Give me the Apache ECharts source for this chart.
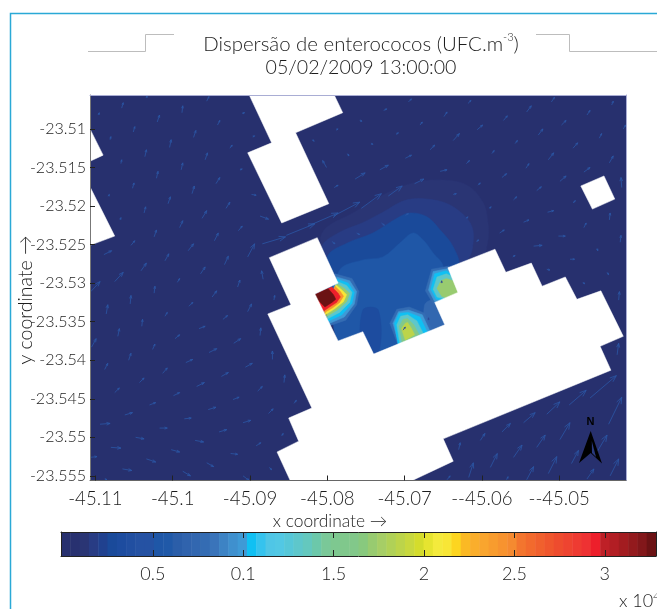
<!DOCTYPE html>
<html><head><meta charset="utf-8">
<style>html,body{margin:0;padding:0;background:#fff}#c{width:657px;height:609px}</style>
<script src="https://cdn.jsdelivr.net/npm/echarts@6/dist/echarts.min.js"></script>
</head><body><div id="c"></div>
<script>
const FONT = 'Lato';
const xTickValues = [-45.11,-45.10,-45.09,-45.08,-45.07,-45.06,-45.05];
const xTickLabels = ['-45.11','-45.1','-45.09','-45.08','-45.07','--45.06','--45.05'];
const yTickValues = [-23.51,-23.515,-23.52,-23.525,-23.53,-23.535,-23.54,-23.545,-23.55,-23.555];
const yTickLabels = ['-23.51','-23.515','-23.52','-23.525','-23.53','-23.535','-23.54','-23.545','-23.55','-23.555'];
const cbTickValues = [0.5,1,1.5,2,2.5,3];
const cbTickLabels = ['0.5','0.1','1.5','2','2.5','3'];
const palette = ['#27306e','#283170','#2a3574','#283c84','#20418f','#1a4a9a','#1d4c9f','#214fa1','#2552a3','#2552a3',
 '#1f57a7','#2059a8','#2b5ea9','#3063ad','#3267b0','#346cb3','#3a74ba','#3d83c4','#3f90ce','#3f9ad6',
 '#10c0f3','#35c3ee','#4fc6e6','#52c8e4','#56c7d8','#5ec7cb','#64c8be','#6cc8aa','#7ac898','#7ec890',
 '#80c88c','#82c88a','#88c97e','#98cb70','#a6ce66','#b0d157','#bcd44a','#c8d83e','#d4dc2c','#e6e430',
 '#f4ea3c','#f8e636','#fdd520','#fbb924','#faae2c','#f9a52e','#f89c2e','#f7932f','#f58a30','#f3752e',
 '#f26a2d','#f0602d','#ef562d','#ee4c2e','#ee4430','#ee3b32','#ee3233','#ed1f2b','#be2027','#b21e24',
 '#a31c20','#931a1d','#82171a','#6b1214'];
// All map points: ten-thousandths of a degree west of 45 deg W and south of 23 deg S.
const landPolygons = [
 [[901,5056],[791,5056],[780,5079],[841,5105],[798,5197],[859,5222],[903,5131],[872,5118]],
 [[1107,5100],[1090,5134],[1107,5142]],
 [[1107,5175],[1075,5239],[1107,5251]],
 [[472,5174],[442,5161],[428,5191],[457,5204]],
 [[875,5267],[813,5241],[786,5300],[816,5314],[786,5375],[754,5363],[740,5392],[648,5354],[661,5325],[631,5312],[644,5280],[583,5256],[569,5286],[536,5274],[522,5304],[492,5292],[477,5321],[446,5310],[417,5369],[447,5382],[433,5413],[650,5502],[637,5531],[690,5556],[848,5556],[865,5519],[837,5505],[850,5475],[820,5462],[877,5340],[847,5328]]
];
const plumeValues = [0.13,0.17,0.26,0.53,0.32,0.73];
const plumePolygons = [
 [[809,5244],[800,5227],[767,5209],[723,5183],[689,5170],[654,5166],[619,5173],[598,5196],[592,5222],[592,5244],[602,5273],[706,5348],[796,5296]],
 [[807,5253],[784,5234],[755,5222],[728,5208],[697,5192],[663,5192],[637,5201],[615,5222],[611,5244],[619,5270],[697,5331],[800,5292]],
 [[800,5266],[774,5248],[741,5235],[710,5216],[693,5209],[671,5214],[654,5231],[637,5253],[631,5279],[697,5352],[793,5309]],
 [[784,5283],[754,5270],[728,5266],[706,5248],[689,5235],[676,5244],[663,5261],[650,5279],[654,5352],[741,5396],[784,5378],[793,5331]],
 [[754,5335],[734,5335],[734,5391],[754,5391]],
 [[674,5328],[654,5322],[641,5361],[667,5371]]
];
const westHotspotValues = [0.8,1.0,1.04,1.3,1.72,2.12,2.42,2.93,3.25];
const westHotspot = [
 [[790,5288],[768,5294],[759,5311],[762,5328],[776,5348],[799,5356]],
 [[788,5292],[771,5297],[762,5311],[765,5327],[778,5344],[799,5353]],
 [[787,5295],[773,5300],[765,5312],[768,5326],[781,5341],[800,5350]],
 [[787,5298],[775,5303],[768,5312],[771,5325],[784,5338],[801,5347]],
 [[787,5301],[778,5307],[771,5313],[775,5324],[787,5335],[802,5344]],
 [[789,5302],[780,5310],[775,5315],[779,5324],[790,5333],[804,5342]],
 [[790,5304],[783,5311],[779,5317],[784,5325],[793,5332],[805,5339]],
 [[794,5305],[786,5313],[783,5318],[788,5325],[797,5331],[806,5337],[816,5315]],
 [[799,5307],[792,5315],[789,5321],[794,5325],[803,5331],[816,5318],[816,5315]]
];
const southHotspotValues = [0.8,1.0,1.04,1.3,1.6,1.87];
const southHotspot = [
 [[719,5352],[710,5334],[694,5331],[674,5339],[662,5367],[706,5387]],
 [[715,5352],[708,5337],[695,5335],[677,5341],[665,5367],[706,5385]],
 [[713,5352],[707,5339],[695,5338],[680,5344],[669,5367],[708,5382]],
 [[710,5354],[705,5343],[696,5341],[684,5349],[675,5367],[706,5380]],
 [[707,5356],[702,5347],[696,5346],[688,5354],[681,5367],[703,5378]],
 [[704,5359],[699,5352],[696,5351],[691,5359],[687,5367],[699,5374]]
];
const eastHotspotValues = [0.8,1.0,1.04,1.3,1.72];
const eastHotspot = [
 [[673,5310],[665,5282],[643,5278],[626,5294],[626,5328],[663,5327]],
 [[669,5309],[663,5285],[643,5281],[628,5296],[628,5326],[661,5324]],
 [[666,5308],[661,5288],[646,5284],[628,5296],[628,5326],[659,5321]],
 [[663,5308],[658,5292],[646,5288],[628,5296],[628,5326],[658,5318]],
 [[658,5307],[653,5297],[646,5294],[628,5300],[628,5326],[652,5317]]
];
// Current vectors: west offset, south offset, eastward, northward.
const currentVectors = [
[1089,5263,10,5],[1054,5251,5,6],[1024,5240,3,9],[946,5245,5,10],[980,5258,7,9],[1010,5271,5,9],[1041,5284,7,10],[1075,5298,11,12],[1106,5311,12,13],[903,5266,9,17],
[933,5276,5,11],[964,5288,6,9],[994,5299,3,5],[1024,5313,1,9],[1055,5327,1,11],[1086,5340,2,12],[916,5305,3,9],[949,5318,6,8],[979,5330,5,5],[1010,5343,3,5],
[1040,5356,1,9],[1071,5369,2,10],[1105,5383,6,11],[903,5337,5,10],[935,5347,6,5],[966,5359,8,3],[997,5372,6,5],[1026,5386,3,7],[1057,5400,3,9],[1088,5412,4,8],
[887,5368,1,10],[921,5378,9,6],[953,5390,10,5],[983,5403,9,4],[1013,5417,6,7],[1043,5429,6,6],[1075,5442,6,6],[871,5399,0,11],[906,5409,9,5],[937,5421,9,5],
[969,5434,10,5],[999,5446,8,4],[1030,5458,8,3],[1062,5471,10,3],[1094,5483,13,1],[890,5440,6,6],[922,5451,8,3],[954,5464,10,3],[985,5476,9,1],[1017,5488,10,0],
[1048,5500,11,-2],[1080,5513,13,-1],[1107,5526,9,1],[876,5469,6,6],[909,5481,10,3],[940,5493,10,3],[971,5504,11,-2],[1002,5516,11,-3],[1034,5528,12,-4],[1065,5541,12,-2],
[892,5511,6,4],[925,5521,9,-1],[956,5533,9,-5],[987,5544,10,-6],[875,5539,3,-3],[909,5550,8,-6],[1088,5554,3,-1],[883,5295,-2,11],[869,5322,1,6],
[1066,5073,2,7],[1096,5082,1,3],[1051,5104,2,7],[1020,5091,3,9],[988,5079,1,9],[1081,5114,1,4],[1036,5136,2,9],[1004,5124,2,10],[973,5111,3,9],[1067,5145,1,5],
[1021,5164,2,9],[989,5153,2,9],[958,5140,3,9],[1052,5177,2,7],[1006,5197,3,9],[975,5184,3,10],[1083,5187,1,2],[1037,5209,2,8],[991,5228,4,9],[962,5216,6,10],[1068,5218,1,3],
[1034,5060,1,3],[956,5064,3,6],[942,5095,3,6],[926,5125,3,4],[910,5080,3,1],[896,5110,2,1],
[944,5171,5,8],[931,5203,5,8],[915,5232,5,6],
[884,5249,30,9],[853,5238,37,15],[825,5226,39,17],[792,5213,34,18],[756,5203,26,19],[721,5187,18,13],[687,5171,12,6],
[887,5213,11,-4],[898,5185,6,-1],[913,5153,3,1],[801,5150,-5,9],[791,5176,5,3],[764,5165,13,8],[732,5153,11,6],[699,5138,8,4],[667,5127,6,6],[637,5115,8,9],[606,5101,7,6],[572,5089,5,6],
[557,5119,3,4],[620,5145,4,4],[587,5132,3,4],[654,5155,9,2],[695,5065,4,4],[727,5076,4,2],[649,5084,4,6],[680,5095,3,4],[711,5107,3,2],[743,5119,2,-1],[774,5132,2,-3],[819,5114,2,-2],
[758,5089,3,-1],[788,5101,2,1],[618,5067,4,4],[574,5163,6,5],[605,5173,3,3],[637,5185,4,1],[590,5203,2,2],[620,5216,2,2],[559,5192,4,4],[577,5235,6,4],[607,5246,3,2],
[730,5222,4,-3],[699,5212,4,2],[762,5235,4,-2],[794,5246,4,-3],
[542,5078,6,8],[510,5065,4,6],[464,5082,4,6],[432,5069,2,5],[527,5108,6,8],[497,5095,6,6],[448,5112,3,6],[417,5100,3,5],[543,5151,4,6],[514,5140,7,9],[482,5125,6,7],[435,5144,5,9],
[529,5180,6,5],[499,5168,8,7],[468,5156,8,6],[419,5176,-1,13],[546,5221,7,3],[515,5208,8,2],[482,5196,3,3],[435,5218,1,9],[468,5228,3,6],[501,5239,9,0],[421,5247,1,9],
[533,5252,11,1],[560,5266,3,2],[486,5269,6,0],[516,5282,4,-1],[451,5255,1,-3],[438,5286,2,-3],[469,5299,2,-2],[423,5322,1,11],[425,5393,2,15],
[460,5449,34,29],[487,5458,22,19],[436,5483,17,35],[516,5470,17,16],[546,5481,15,13],[499,5503,13,22],[574,5493,11,11],[602,5504,6,9],[630,5516,2,9],[529,5513,11,16],[559,5526,11,16],
[589,5539,9,18],[617,5552,6,19],[484,5534,9,17],[451,5519,13,22],[514,5547,11,22],[542,5555,9,17],[434,5550,11,22],[464,5554,9,13],[568,5555,2,4],[645,5555,4,5],
[856,5429,1,10],[843,5456,3,4],[859,5498,2,3]
];
const hotspotVectors = [[652,5300,0,3],[702,5361,3,4],[669,5348,0,3]];

const CB_MIN = -0.008, CB_MAX = 3.283;
const lonOf = w => -45 - w/1e4, latOf = s => -23 - s/1e4;
const colorOf = v => palette[Math.min(63, Math.floor((v-CB_MIN)/(CB_MAX-CB_MIN)*64))];

const fieldItems = [];
const addLayer = (polys, vals, smooth) => polys.forEach((p,i)=>fieldItems.push({p, c: colorOf(vals[i]), smooth}));
addLayer(plumePolygons, plumeValues, 0.35);
addLayer(westHotspot, westHotspotValues, 0);
addLayer(southHotspot, southHotspotValues, 0);
addLayer(eastHotspot, eastHotspotValues, 0);
landPolygons.forEach(p=>fieldItems.push({p, c:'#ffffff', smooth:0}));

function arrowItem(v, api, color){
  const a = api.coord([lonOf(v[0]), latOf(v[1])]);
  const b = api.coord([lonOf(v[0]) + v[2]/1e4, latOf(v[1]) + v[3]/1e4]);
  const dx=b[0]-a[0], dy=b[1]-a[1], len=Math.hypot(dx,dy)||1;
  const h=Math.min(7,Math.max(2,len*0.38)), ang=Math.atan2(dy,dx), w=0.36;
  const l=[b[0]-h*Math.cos(ang-w), b[1]-h*Math.sin(ang-w)], r=[b[0]-h*Math.cos(ang+w), b[1]-h*Math.sin(ang+w)];
  return {type:'group',children:[
    {type:'polyline',shape:{points:[a,b]},style:{stroke:color,lineWidth:0.8,fill:null}},
    {type:'polyline',shape:{points:[l,b,r]},style:{stroke:color,lineWidth:0.8,fill:null}}
  ]};
}
const hidden = {show:false};
const chart = echarts.init(document.getElementById('c'),null,{renderer:'canvas'});
const INK='#1c1c1c';
const txt = {fontFamily:FONT,fontWeight:300,color:INK};
const line = (pts,stroke,w)=>({type:'polyline',silent:true,shape:{points:pts},style:{stroke,lineWidth:w,fill:null}});
chart.setOption({
  animation:false,
  backgroundColor:'#ffffff',
  title:[
    {text:'{a|Dispersão de enterococos (UFC.m}{s|-3}{a|)}',left:356,top:27,textAlign:'center',
      textStyle:{rich:{a:{...txt,fontSize:20.4,lineHeight:24},s:{...txt,fontSize:11,lineHeight:20,verticalAlign:'top',padding:[0,0,8,0]}}}},
    {text:'05/02/2009 13:00:00',left:356,top:53,textAlign:'center',textStyle:{...txt,fontSize:19.6}}
  ],
  grid:[
    {left:90,top:95,width:536,height:385.5,show:true,backgroundColor:palette[0],borderWidth:0},
    {left:61,top:532,width:595,height:24,show:false}
  ],
  xAxis:[
    {gridIndex:0,type:'value',position:'bottom',min:lonOf(1107),max:lonOf(413.5),z:10,splitLine:hidden,
      axisLine:{show:true,onZero:false,lineStyle:{color:'#666',width:1}},
      axisTick:{show:true,inside:true,length:5,customValues:xTickValues,lineStyle:{color:'#222'}},
      axisLabel:{show:true,margin:9,customValues:xTickValues,...txt,fontSize:18.6,formatter:v=>xTickLabels[xTickValues.indexOf(v)]||''}},
    {gridIndex:0,type:'value',position:'top',min:lonOf(1107),max:lonOf(413.5),z:10,splitLine:hidden,
      axisLine:{show:true,onZero:false,lineStyle:{color:'#a9add4',width:1}},axisTick:hidden,axisLabel:hidden},
    {gridIndex:1,type:'value',position:'bottom',min:CB_MIN,max:CB_MAX,z:10,splitLine:hidden,
      axisLine:{show:true,onZero:false,lineStyle:{color:'#222',width:1}},
      axisTick:{show:true,inside:true,length:6,customValues:cbTickValues,lineStyle:{color:'#222'}},
      axisLabel:{show:true,margin:9,customValues:cbTickValues,...txt,fontSize:18,formatter:v=>cbTickLabels[cbTickValues.indexOf(v)]||''}},
    {gridIndex:1,type:'value',position:'top',min:CB_MIN,max:CB_MAX,z:10,splitLine:hidden,
      axisLine:{show:true,onZero:false,lineStyle:{color:'#222',width:1}},
      axisTick:{show:true,inside:true,length:6,customValues:cbTickValues,lineStyle:{color:'#222'}},axisLabel:hidden}
  ],
  yAxis:[
    {gridIndex:0,type:'value',position:'left',min:latOf(5556),max:latOf(5056),z:10,splitLine:hidden,
      axisLine:{show:true,onZero:false,lineStyle:{color:'#777',width:1}},
      axisTick:{show:true,inside:true,length:5,customValues:yTickValues,lineStyle:{color:'#222'}},
      axisLabel:{show:true,margin:4,customValues:yTickValues,...txt,fontSize:16,padding:[0,0,10,0],formatter:v=>yTickLabels[yTickValues.indexOf(v)]||''}},
    {gridIndex:0,type:'value',position:'right',min:latOf(5556),max:latOf(5056),z:10,splitLine:hidden,
      axisLine:{show:true,onZero:false,lineStyle:{color:'#a9add4',width:1}},axisTick:hidden,axisLabel:hidden},
    {gridIndex:1,type:'value',position:'left',min:0,max:1,z:10,splitLine:hidden,axisTick:hidden,axisLabel:hidden,
      axisLine:{show:true,onZero:false,lineStyle:{color:'#222',width:1}}},
    {gridIndex:1,type:'value',position:'right',min:0,max:1,z:10,splitLine:hidden,axisTick:hidden,axisLabel:hidden,
      axisLine:{show:true,onZero:false,lineStyle:{color:'#222',width:1}}}
  ],
  series:[
    {type:'custom',xAxisIndex:0,yAxisIndex:0,clip:true,silent:true,z:2,coordinateSystem:'cartesian2d',
      data:fieldItems.map((_,i)=>[i]),encode:{x:[],y:[]},
      renderItem:(params,api)=>{
        const it=fieldItems[api.value(0)];
        return {type:'polygon',shape:{points:it.p.map(q=>api.coord([lonOf(q[0]),latOf(q[1])])),smooth:it.smooth},style:{fill:it.c,stroke:it.c,lineWidth:0.5}};
      }},
    {type:'custom',xAxisIndex:0,yAxisIndex:0,clip:true,silent:true,z:3,
      data:currentVectors.map((_,i)=>[i]),encode:{x:[],y:[]},
      renderItem:(params,api)=>arrowItem(currentVectors[api.value(0)],api,'#2b57a6')},
    {type:'custom',xAxisIndex:0,yAxisIndex:0,clip:true,silent:true,z:3,
      data:hotspotVectors.map((_,i)=>[i]),encode:{x:[],y:[]},
      renderItem:(params,api)=>arrowItem(hotspotVectors[api.value(0)],api,'#2b4a98')},
    {type:'custom',xAxisIndex:2,yAxisIndex:2,silent:true,z:2,
      data:palette.map((_,i)=>[i]),encode:{x:[],y:[]},
      renderItem:(params,api)=>{
        const i=api.value(0), s=(CB_MAX-CB_MIN)/64;
        const a=api.coord([CB_MIN+i*s,1]), b=api.coord([CB_MIN+(i+1)*s,0]);
        return {type:'rect',shape:{x:a[0],y:a[1],width:b[0]-a[0]+0.5,height:b[1]-a[1]},style:{fill:palette[i]}};
      }}
  ],
  graphic:[
    line([[10.5,609],[10.5,13.5],[657,13.5]],'#2aa9d6',1.5),
    line([[88,51.5],[145.5,51.5],[145.5,34.5],[174,34.5]],'#bdbdbd',1),
    line([[536,34.5],[569.5,34.5],[569.5,51.5],[657,51.5]],'#bdbdbd',1),
    {type:'text',x:330,y:521,silent:true,style:{text:'x coordinate \u2192',font:'300 17.4px '+FONT,fill:INK,align:'center',verticalAlign:'middle'}},
    {type:'text',x:26,y:300,rotation:Math.PI/2,silent:true,style:{text:'y coordinate \u2192',font:'300 19.5px '+FONT,fill:INK,align:'center',verticalAlign:'middle'}},
    {type:'text',x:619,y:601,silent:true,style:{text:'{a|x 10}{s|4}',rich:{a:{font:'300 18px '+FONT,fill:INK},s:{font:'300 10px '+FONT,fill:INK,padding:[0,0,8,0]}},verticalAlign:'middle'}},
    {type:'text',x:590.5,y:422,silent:true,z:20,style:{text:'N',font:'900 11px "Liberation Sans"',fill:'#000',align:'center',verticalAlign:'middle'}},
    {type:'polygon',silent:true,z:20,shape:{points:[[590.7,431],[579,463],[590.7,453],[602,463.5]]},style:{fill:'#000'}},
    {type:'polygon',silent:true,z:21,shape:{points:[[591.8,441],[596,457],[592,453]]},style:{fill:'#2a3a80'}}
  ]
});
</script></body></html>
